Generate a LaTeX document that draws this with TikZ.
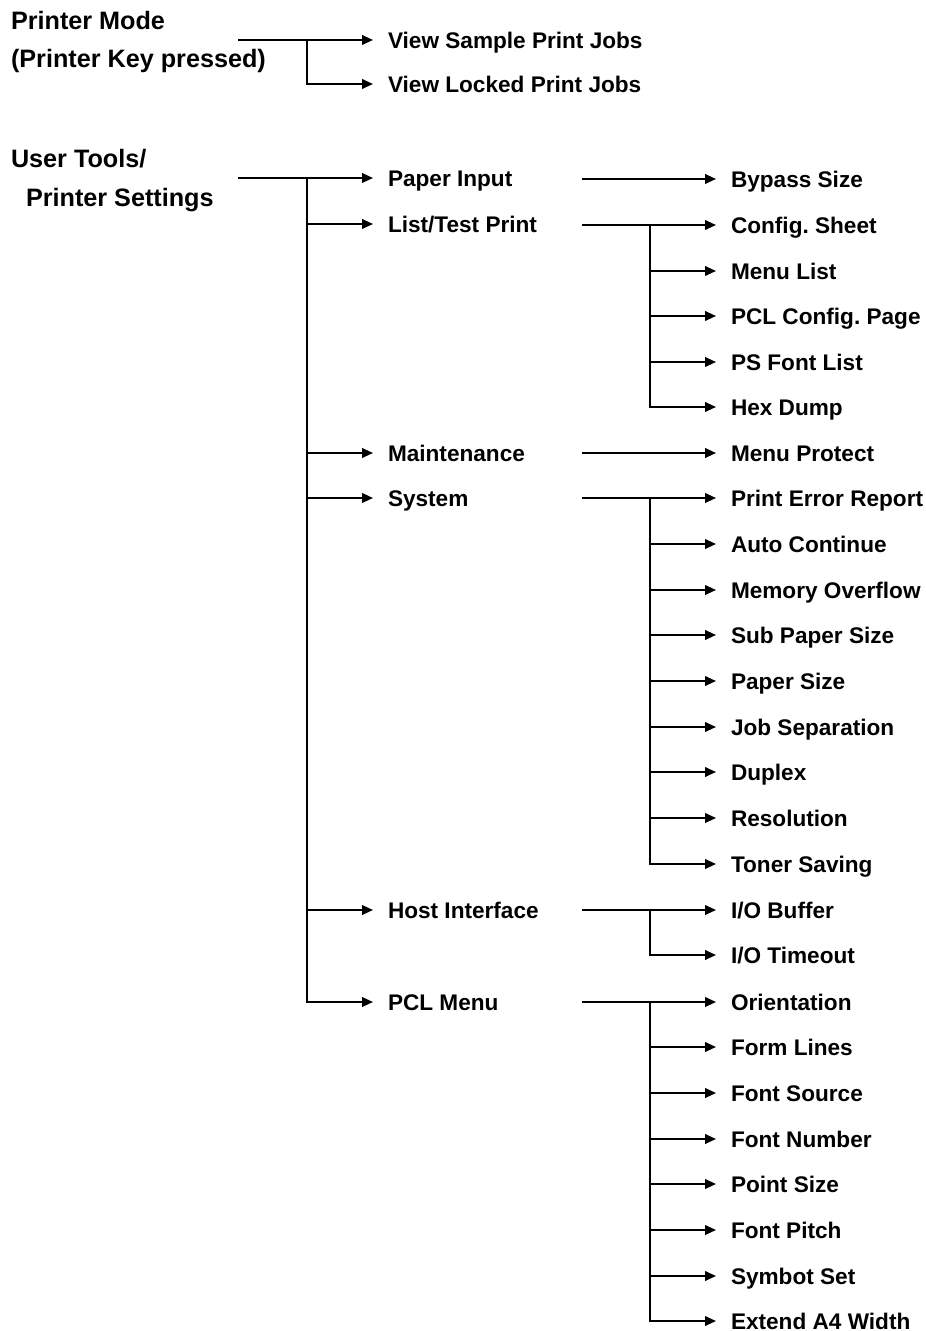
\documentclass[tikz,border=0pt]{standalone}
\usepackage{fontspec}
\setmainfont{Liberation Sans}
\usetikzlibrary{arrows.meta}
\frenchspacing

\begin{document}
\begin{tikzpicture}[x=0.5pt, y=-0.5pt, line width=1pt,
        arr/.style={-{Triangle[length=5.5pt,width=4.8pt]}, shorten >=7pt},
        item/.style={font=\fontsize{11.3}{13}\selectfont\bfseries, inner sep=0pt,
            anchor=west, text height=8.1pt, text depth=0pt},
        head/.style={item, font=\fontsize{12.6}{15}\selectfont\bfseries, text height=9pt}]
        \useasboundingbox (0,0) rectangle (925,1331);

        % left column
        \node[head] (pmode)     at (10,20.5)  {Printer Mode};
        \node[head] (pkey)      at (10,59)    {(Printer Key pressed)};
        \node[head] (utools)    at (10,158.5) {User Tools/};
        \node[head] (psettings) at (25,197.5) {Printer Settings};

        % printer mode
        \node[item] (sample) at (387,40) {View Sample Print Jobs};
        \node[item] (locked) at (387,84) {View Locked Print Jobs};

        % user tools
        \node[item] (paper)    at (387,178)  {Paper Input};
        \node[item] (listtest) at (387,224)  {List/Test Print};
        \node[item] (maint)    at (387,453)  {Maintenance};
        \node[item] (system)   at (387,498)  {System};
        \node[item] (host)     at (387,910)  {Host Interface};
        \node[item] (pcl)      at (387,1002) {PCL Menu};

        \node[item] (bypass)     at (730,179)  {Bypass Size};
        \node[item] (config)     at (730,225)  {Config. Sheet};
        \node[item] (menulist)   at (730,271)  {Menu List};
        \node[item] (pclconfig)  at (730,316)  {PCL Config. Page};
        \node[item] (psfont)     at (730,362)  {PS Font List};
        \node[item] (hexdump)    at (730,407)  {Hex Dump};
        \node[item] (protect)    at (730,453)  {Menu Protect};
        \node[item] (errreport)  at (730,498)  {Print Error Report};
        \node[item] (autocont)   at (730,544)  {Auto Continue};
        \node[item] (memover)    at (730,590)  {Memory Overflow};
        \node[item] (subpaper)   at (730,635)  {Sub Paper Size};
        \node[item] (papersize)  at (730,681)  {Paper Size};
        \node[item] (jobsep)     at (730,727)  {Job Separation};
        \node[item] (duplex)     at (730,772)  {Duplex};
        \node[item] (resolution) at (730,818)  {Resolution};
        \node[item] (toner)      at (730,864)  {Toner Saving};
        \node[item] (iobuffer)   at (730,910)  {I/O Buffer};
        \node[item] (iotimeout)  at (730,955)  {I/O Timeout};
        \node[item] (orient)     at (730,1002) {Orientation};
        \node[item] (formlines)  at (730,1047) {Form Lines};
        \node[item] (fontsource) at (730,1093) {Font Source};
        \node[item] (fontnumber) at (730,1139) {Font Number};
        \node[item] (pointsize)  at (730,1184) {Point Size};
        \node[item] (fontpitch)  at (730,1230) {Font Pitch};
        \node[item] (symbot)     at (730,1276) {Symbot Set};
        \node[item] (extend)     at (730,1321) {Extend A4 Width};

        % line starts and branch points
        \coordinate (pmstart)  at (238,40);
        \coordinate (pmhub)    at (307,40);
        \coordinate (utstart)  at (238,178);
        \coordinate (uthub)    at (307,178);
        \coordinate (paperst)  at (582,179);
        \coordinate (listst)   at (582,225);
        \coordinate (listhub)  at (650,225);
        \coordinate (maintst)  at (582,453);
        \coordinate (sysst)    at (582,498);
        \coordinate (syshub)   at (650,498);
        \coordinate (hostst)   at (582,910);
        \coordinate (hosthub)  at (650,910);
        \coordinate (pclst)    at (582,1002);
        \coordinate (pclhub)   at (650,1002);

        \draw[arr] (pmstart) -- (sample.west);
        \draw[arr] (pmhub) |- (locked.west);

        \draw[arr] (utstart) -- (paper.west);
        \draw[arr] (uthub) |- (listtest.west);
        \draw[arr] (uthub) |- (maint.west);
        \draw[arr] (uthub) |- (system.west);
        \draw[arr] (uthub) |- (host.west);
        \draw[arr] (uthub) |- (pcl.west);

        \draw[arr] (paperst) -- (bypass.west);

        \draw[arr] (listst) -- (config.west);
        \draw[arr] (listhub) |- (menulist.west);
        \draw[arr] (listhub) |- (pclconfig.west);
        \draw[arr] (listhub) |- (psfont.west);
        \draw[arr] (listhub) |- (hexdump.west);

        \draw[arr] (maintst) -- (protect.west);

        \draw[arr] (sysst) -- (errreport.west);
        \draw[arr] (syshub) |- (autocont.west);
        \draw[arr] (syshub) |- (memover.west);
        \draw[arr] (syshub) |- (subpaper.west);
        \draw[arr] (syshub) |- (papersize.west);
        \draw[arr] (syshub) |- (jobsep.west);
        \draw[arr] (syshub) |- (duplex.west);
        \draw[arr] (syshub) |- (resolution.west);
        \draw[arr] (syshub) |- (toner.west);

        \draw[arr] (hostst) -- (iobuffer.west);
        \draw[arr] (hosthub) |- (iotimeout.west);

        \draw[arr] (pclst) -- (orient.west);
        \draw[arr] (pclhub) |- (formlines.west);
        \draw[arr] (pclhub) |- (fontsource.west);
        \draw[arr] (pclhub) |- (fontnumber.west);
        \draw[arr] (pclhub) |- (pointsize.west);
        \draw[arr] (pclhub) |- (fontpitch.west);
        \draw[arr] (pclhub) |- (symbot.west);
        \draw[arr] (pclhub) |- (extend.west);

\end{tikzpicture}
\end{document}
